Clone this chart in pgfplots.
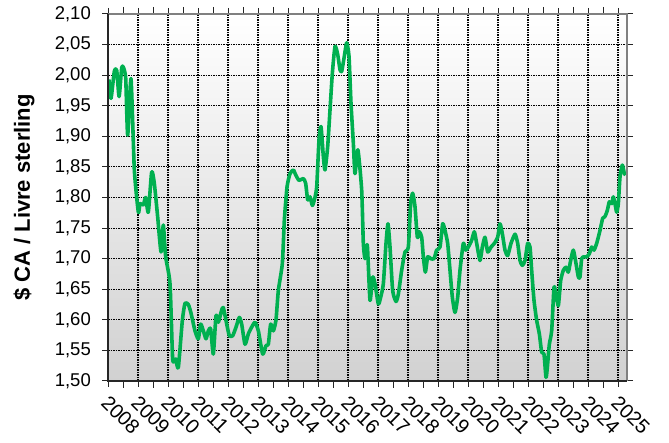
\documentclass[border=0pt]{standalone}
\usepackage{fontspec}
\setmainfont{Liberation Sans}
\usepackage{pgfplots}
\pgfplotsset{compat=1.18}
\definecolor{lgreen}{HTML}{00B050}
\begin{document}
\begin{tikzpicture}
\path[use as bounding box] (0,0) rectangle (669pt,443pt);
\begin{axis}[
  at={(108pt,62pt)}, anchor=south west,
  width=519pt, height=367pt, scale only axis,
  xmin=2008, xmax=2025.3, ymin=1.5, ymax=2.1,
  clip=false,
  xtick={2008,2009,2010,2011,2012,2013,2014,2015,2016,2017,2018,2019,2020,2021,2022,2023,2024,2025},
  xticklabels={2008,2009,2010,2011,2012,2013,2014,2015,2016,2017,2018,2019,2020,2021,2022,2023,2024,2025},
  minor x tick num=1,
  ytick={1.5,1.55,1.6,1.65,1.7,1.75,1.8,1.85,1.9,1.95,2.0,2.05,2.1},
  yticklabel={\pgfmathprintnumber[fixed,fixed zerofill,precision=2,use comma]{\tick}},
  /pgf/number format/assume math mode=true,
  tick align=outside, major tick length=6pt, minor tick length=7pt,
  tick style={black!85, line width=1pt},
  grid=major,
  major grid style={black, line width=1.1pt, dash pattern=on 1.5pt off 1pt},
  axis line style={draw=none},
  axis background/.style={top color=white, bottom color=black!18},
  yticklabel style={font=\fontsize{18.5}{20}\selectfont, anchor=east, inner sep=0pt, xshift=-11pt},
  xticklabel style={font=\fontsize{20}{22}\selectfont, xshift=2pt, yshift=-7pt, rotate=-45, anchor=north west, inner sep=0pt},
  ylabel={\$ CA / Livre sterling},
  ylabel style={font=\bfseries\fontsize{22}{24}\selectfont, at={(axis description cs:-0.162,0.5)}, anchor=center},
]
\addplot[lgreen, line width=3.6pt, smooth, tension=0.35, line join=round] table {
x y
2008.03 1.993
2008.10 1.962
2008.21 2.006
2008.29 2.008
2008.37 1.965
2008.456 2.012
2008.51 2.013
2008.59 1.995
2008.656 1.902
2008.767 1.994
2008.878 1.845
2009.011 1.776
2009.067 1.790
2009.178 1.788
2009.256 1.800
2009.344 1.776
2009.456 1.842
2009.544 1.823
2009.656 1.768
2009.767 1.711
2009.844 1.755
2009.922 1.703
2010.067 1.659
2010.156 1.536
2010.256 1.536
2010.344 1.522
2010.478 1.599
2010.567 1.627
2010.678 1.625
2010.767 1.611
2010.9 1.582
2011.011 1.569
2011.089 1.593
2011.178 1.582
2011.267 1.569
2011.344 1.582
2011.422 1.585
2011.511 1.544
2011.6 1.607
2011.678 1.596
2011.789 1.616
2011.844 1.620
2011.933 1.599
2012.044 1.574
2012.156 1.574
2012.267 1.588
2012.378 1.604
2012.456 1.593
2012.567 1.560
2012.678 1.577
2012.789 1.588
2012.9 1.596
2013.011 1.582
2013.156 1.544
2013.267 1.558
2013.344 1.560
2013.422 1.593
2013.511 1.582
2013.6 1.600
2013.678 1.648
2013.811 1.692
2013.878 1.763
2013.967 1.817
2014.067 1.839
2014.178 1.845
2014.256 1.837
2014.367 1.828
2014.511 1.831
2014.589 1.823
2014.656 1.796
2014.733 1.801
2014.811 1.787
2014.878 1.796
2014.956 1.817
2015.033 1.894
2015.1 1.916
2015.178 1.867
2015.233 1.845
2015.322 1.883
2015.4 1.943
2015.478 2.003
2015.567 2.047
2015.656 2.034
2015.733 2.009
2015.789 2.006
2015.878 2.031
2015.956 2.053
2016.033 2.031
2016.1 1.954
2016.178 1.889
2016.233 1.839
2016.33 1.878
2016.456 1.812
2016.511 1.725
2016.567 1.700
2016.644 1.722
2016.733 1.632
2016.822 1.670
2016.9 1.659
2017.011 1.626
2017.089 1.637
2017.178 1.659
2017.267 1.725
2017.333 1.757
2017.4 1.719
2017.489 1.648
2017.6 1.630
2017.678 1.642
2017.789 1.681
2017.9 1.711
2018.011 1.719
2018.089 1.790
2018.156 1.807
2018.233 1.785
2018.311 1.735
2018.378 1.744
2018.456 1.735
2018.511 1.703
2018.578 1.678
2018.656 1.703
2018.756 1.700
2018.867 1.700
2018.956 1.714
2019.067 1.719
2019.156 1.757
2019.233 1.746
2019.322 1.725
2019.4 1.681
2019.478 1.637
2019.567 1.612
2019.656 1.637
2019.733 1.681
2019.844 1.725
2019.922 1.714
2020.011 1.719
2020.122 1.730
2020.211 1.744
2020.289 1.725
2020.4 1.697
2020.478 1.719
2020.567 1.735
2020.656 1.711
2020.767 1.719
2020.878 1.725
2020.989 1.735
2021.067 1.757
2021.144 1.741
2021.233 1.714
2021.322 1.705
2021.433 1.725
2021.567 1.740
2021.656 1.725
2021.733 1.697
2021.811 1.689
2021.9 1.697
2021.989 1.725
2022.067 1.719
2022.122 1.681
2022.2 1.632
2022.289 1.599
2022.378 1.577
2022.456 1.547
2022.533 1.544
2022.6 1.506
2022.644 1.522
2022.711 1.560
2022.789 1.582
2022.867 1.653
2022.933 1.642
2023.011 1.623
2023.089 1.664
2023.178 1.681
2023.267 1.686
2023.344 1.678
2023.422 1.697
2023.511 1.714
2023.6 1.692
2023.678 1.670
2023.733 1.670
2023.789 1.700
2023.867 1.703
2023.956 1.703
2024.044 1.708
2024.122 1.719
2024.2 1.714
2024.289 1.725
2024.4 1.746
2024.489 1.766
2024.567 1.769
2024.644 1.779
2024.711 1.793
2024.789 1.790
2024.844 1.801
2024.9 1.790
2024.956 1.776
2025.011 1.790
2025.067 1.834
2025.144 1.853
2025.211 1.839
2025.256 1.837
};
\draw[black!50, line width=2.5pt] (rel axis cs:0,1) -- (rel axis cs:1,1) -- (rel axis cs:1,0);
\draw[black!85, line width=1.6pt] (rel axis cs:0,1) -- (rel axis cs:0,0) -- (rel axis cs:1,0);
\end{axis}
\end{tikzpicture}
\end{document}
